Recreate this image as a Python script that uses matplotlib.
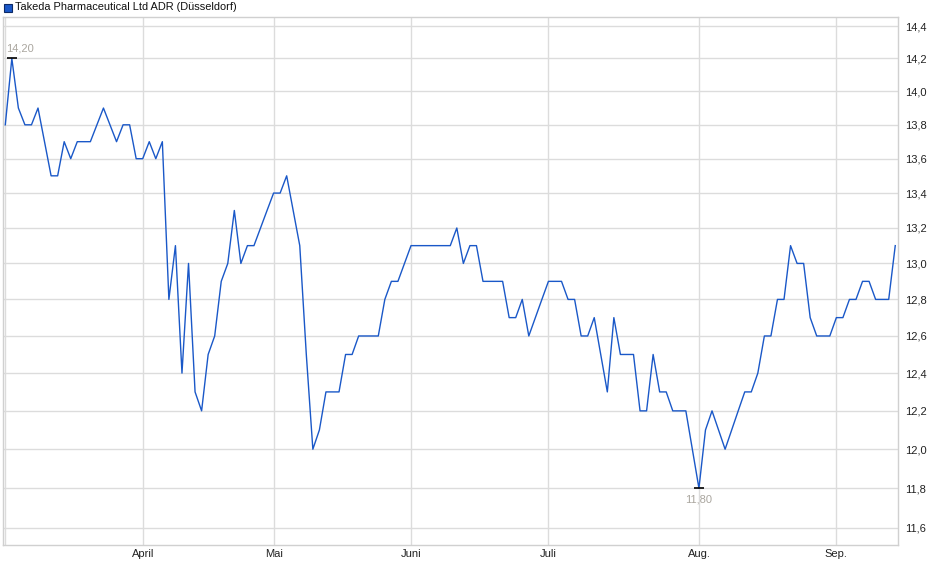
import numpy as np
import matplotlib
matplotlib.use('Agg')
import matplotlib.pyplot as plt
from matplotlib.patches import Rectangle
from matplotlib.ticker import FixedLocator, FuncFormatter, NullLocator

plt.rcParams['font.family'] = ['Liberation Sans', 'DejaVu Sans']

# Kursdaten (Handelstage, Schlusskurse in EUR)
titel = 'Takeda Pharmaceutical Ltd ADR (Düsseldorf)'
kurs = [
    13.8, 14.2, 13.9, 13.8, 13.8, 13.9, 13.7, 13.5, 13.5, 13.7,
    13.6, 13.7, 13.7, 13.7, 13.8, 13.9, 13.8, 13.7, 13.8, 13.8,
    13.6, 13.6, 13.7, 13.6, 13.7, 12.8, 13.1, 12.4, 13.0, 12.3,
    12.2, 12.5, 12.6, 12.9, 13.0, 13.3, 13.0, 13.1, 13.1, 13.2,
    13.3, 13.4, 13.4, 13.5, 13.3, 13.1, 12.5, 12.0, 12.1, 12.3,
    12.3, 12.3, 12.5, 12.5, 12.6, 12.6, 12.6, 12.6, 12.8, 12.9,
    12.9, 13.0, 13.1, 13.1, 13.1, 13.1, 13.1, 13.1, 13.1, 13.2,
    13.0, 13.1, 13.1, 12.9, 12.9, 12.9, 12.9, 12.7, 12.7, 12.8,
    12.6, 12.7, 12.8, 12.9, 12.9, 12.9, 12.8, 12.8, 12.6, 12.6,
    12.7, 12.5, 12.3, 12.7, 12.5, 12.5, 12.5, 12.2, 12.2, 12.5,
    12.3, 12.3, 12.2, 12.2, 12.2, 12.0, 11.8, 12.1, 12.2, 12.1,
    12.0, 12.1, 12.2, 12.3, 12.3, 12.4, 12.6, 12.6, 12.8, 12.8,
    13.1, 13.0, 13.0, 12.7, 12.6, 12.6, 12.6, 12.7, 12.7, 12.8,
    12.8, 12.9, 12.9, 12.8, 12.8, 12.8, 13.1,
]
monat_labels = ['April', 'Mai', 'Juni', 'Juli', 'Aug.', 'Sep.']
monat_pos = [21, 41, 62, 83, 106, 127]
y_ticks = [11.6, 11.8, 12.0, 12.2, 12.4, 12.6, 12.8, 13.0,
           13.2, 13.4, 13.6, 13.8, 14.0, 14.2, 14.4]

W, H = 940, 579
fig = plt.figure(figsize=(W / 100, H / 100), dpi=100)
ax = fig.add_axes([3 / W, 1 - 545 / H, 895 / W, 528 / H])

x = np.arange(len(kurs))
ax.plot(x, kurs, color='#1a58c8', lw=1, zorder=3)

ax.set_yscale('log')
ax.set_ylim(11.515, 14.456)
ax.set_xlim(-0.35, len(kurs) - 1 + 0.42)

grid_col = '#dcdcdc'
ax.yaxis.set_major_locator(FixedLocator(y_ticks))
ax.yaxis.set_minor_locator(NullLocator())
ax.yaxis.set_major_formatter(FuncFormatter(lambda v, p: f'{v:.1f}'.replace('.', ',')))
ax.yaxis.tick_right()
ax.set_xticks(monat_pos)
ax.set_xticklabels(monat_labels)
ax.xaxis.set_minor_locator(NullLocator())
ax.tick_params(axis='y', length=0, pad=5, labelsize=8, colors='#222222')
ax.tick_params(axis='x', length=0, pad=3, labelsize=8, colors='#222222')
ax.grid(True, color=grid_col, lw=1)
ax.axvline(0, color=grid_col, lw=1)
ax.set_axisbelow(True)
for s in ax.spines.values():
    s.set_color('#d0d0d0')
    s.set_linewidth(1)

# Hoch und Tief markieren
i_max = int(np.argmax(kurs))
i_min = int(np.argmin(kurs))
lab_col = '#aaa69f'
for i, dy, ha, dx in [(i_max, 10, 'left', -6), (i_min, -11, 'center', 0)]:
    ax.plot(i, kurs[i], marker='_', ms=7, mew=1.2, color='black', zorder=4)
    ax.annotate(f'{kurs[i]:.2f}'.replace('.', ','), (i, kurs[i]),
                xytext=(dx, dy), textcoords='offset pixels',
                ha=ha, va='center', fontsize=8, color=lab_col)

# Legende / Titel oben links
fig.add_artist(Rectangle((4 / W, 1 - 12 / H), 8 / W, 8 / H, transform=fig.transFigure,
                         facecolor='#1a58c8', edgecolor='#0d2a66', lw=0.8))
fig.text(15 / W, 1 - 7.5 / H, titel, va='center', ha='left', fontsize=7.9, color='#111111')

fig.savefig('out.png', dpi=100)
